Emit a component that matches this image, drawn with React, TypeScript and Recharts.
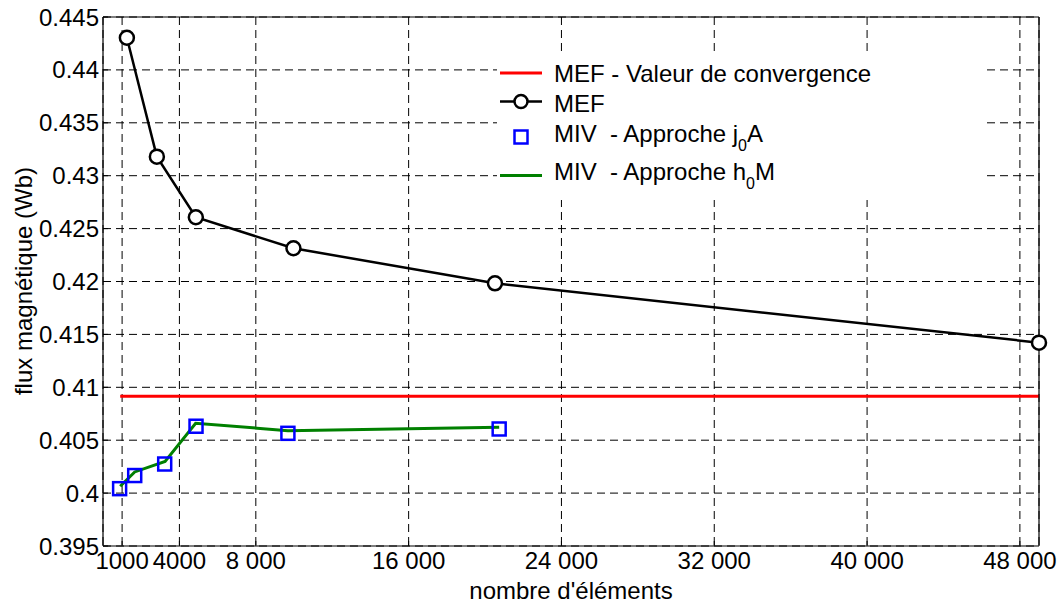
import React from 'react';
import { ComposedChart, Line, Scatter, XAxis, YAxis, CartesianGrid, Legend } from 'recharts';

// MEF (finite elements)
const mefX = [1250, 2820, 4860, 9970, 20520, 49000];
const mefY = [0.44304, 0.4318, 0.42607, 0.42314, 0.41983, 0.41422];

// MEF convergence value
const convX = [900, 49000];
const convY = [0.40915, 0.40915];

// MIV - approche j0A (squares)
const jaX = [870, 1660, 3230, 4870, 9680, 20740];
const jaY = [0.40042, 0.40166, 0.40275, 0.40632, 0.40565, 0.40606];

// MIV - approche h0M (green line)
const hmX = [900, 1660, 3250, 4850, 9680, 20740];
const hmY = [0.40065, 0.402, 0.403, 0.4066, 0.4059, 0.40622];

const xTicks = [1000, 4000, 8000, 16000, 24000, 32000, 40000, 48000];
const xTickLabels = ['1000', '4000', '8 000', '16 000', '24 000', '32 000', '40 000', '48 000'];
const yTicks = [0.395, 0.4, 0.405, 0.41, 0.415, 0.42, 0.425, 0.43, 0.435, 0.44, 0.445];
const yTickLabels = ['0.395', '0.4', '0.405', '0.41', '0.415', '0.42', '0.425', '0.43', '0.435', '0.44', '0.445'];

const zip = (xs: number[], ys: number[]) => xs.map((x, i) => ({ x, y: ys[i] }));

const mefData = zip(mefX, mefY);
const convData = zip(convX, convY);
const jaData = zip(jaX, jaY);
const hmData = zip(hmX, hmY);

const FONT = '"Liberation Sans", Arial, Helvetica, sans-serif';
const FS = 24;

const SquareShape = (props: any) => {
  const { cx, cy } = props;
  if (cx == null || cy == null) return null;
  return <rect x={cx - 6.5} y={cy - 6.5} width={13} height={13} fill="none" stroke="#0000ff" strokeWidth={2.5} />;
};

const YLabel = () => (
  <text x={31.5} y={281} transform="rotate(-90 31.5 281)" textAnchor="middle" fontSize={FS} fontFamily={FONT} fill="#000">
    flux magnétique (Wb)
  </text>
);

const XLabel = () => (
  <text x={571} y={599} textAnchor="middle" fontSize={FS} fontFamily={FONT} fill="#000">
    nombre d'éléments
  </text>
);

const LegendContent = () => (
  <svg width={520} height={160} style={{ display: 'block' }}>
    <rect x={17} y={5} width={488} height={145} fill="#fff" />
    <g fontFamily={FONT} fontSize={FS} fill="#000">
      <line x1={20} y1={23} x2={62} y2={23} stroke="#ff0000" strokeWidth={3} />
      <text x={74} y={31.5} style={{ whiteSpace: 'pre' }}>MEF - Valeur de convergence</text>

      <line x1={20} y1={51.5} x2={62} y2={51.5} stroke="#000" strokeWidth={2.5} />
      <circle cx={41} cy={51.5} r={6.5} fill="#fff" stroke="#000" strokeWidth={2.5} />
      <text x={74} y={61.5}>MEF</text>

      <rect x={34.5} y={80.5} width={13} height={13} fill="none" stroke="#0000ff" strokeWidth={2.5} />
      <text x={74} y={91.5} style={{ whiteSpace: 'pre' }}>
        {'MIV  - Approche j'}
        <tspan dy={9} fontSize={16}>0</tspan>
        <tspan dy={-9}>A</tspan>
      </text>

      <line x1={20} y1={125.5} x2={62} y2={125.5} stroke="#008000" strokeWidth={3} />
      <text x={74} y={130} style={{ whiteSpace: 'pre' }}>
        {'MIV  - Approche h'}
        <tspan dy={9} fontSize={16}>0</tspan>
        <tspan dy={-9}>M</tspan>
      </text>
    </g>
  </svg>
);

export default function App() {
  return (
    <div style={{ position: 'absolute', left: 0, top: 0, width: 1058, height: 606, background: '#fff', fontFamily: FONT }}>
      <ComposedChart width={1058} height={606} margin={{ top: 16, right: 18, bottom: 0, left: 0 }}>
        <CartesianGrid stroke="#000" strokeDasharray="8 5" strokeWidth={1} />
        <XAxis
          dataKey="x"
          type="number"
          domain={[0, 49000]}
          ticks={xTicks}
          interval={0}
          tickFormatter={(v: number) => xTickLabels[xTicks.indexOf(v)] ?? String(v)}
          tick={{ fill: '#000', fontSize: FS, fontFamily: FONT }}
          tickLine={{ stroke: '#000' }}
          tickSize={-5}
          tickMargin={11}
          height={60}
          axisLine={{ stroke: '#000', strokeWidth: 1.2 }}
          label={<XLabel />}
        />
        <XAxis
          xAxisId="top"
          orientation="top"
          dataKey="x"
          type="number"
          domain={[0, 49000]}
          ticks={xTicks}
          interval={0}
          tick={false}
          tickLine={{ stroke: '#000' }}
          tickSize={-5}
          height={1}
          axisLine={{ stroke: '#000', strokeWidth: 1.2 }}
        />
        <YAxis
          type="number"
          domain={[0.395, 0.445]}
          ticks={yTicks}
          interval={0}
          tickFormatter={(v: number) => {
            const i = yTicks.findIndex((t) => Math.abs(t - v) < 1e-9);
            return i >= 0 ? yTickLabels[i] : String(v);
          }}
          tick={{ fill: '#000', fontSize: FS, fontFamily: FONT }}
          tickLine={{ stroke: '#000' }}
          tickSize={-5}
          tickMargin={9}
          width={103}
          axisLine={{ stroke: '#000', strokeWidth: 1.2 }}
          label={<YLabel />}
        />
        <YAxis
          yAxisId="right"
          orientation="right"
          type="number"
          domain={[0.395, 0.445]}
          ticks={yTicks}
          interval={0}
          tick={false}
          tickLine={{ stroke: '#000' }}
          tickSize={-5}
          width={1}
          axisLine={{ stroke: '#000', strokeWidth: 1.2 }}
        />
        <Legend
          layout="vertical"
          align="center"
          verticalAlign="middle"
          content={<LegendContent />}
          wrapperStyle={{ position: 'absolute', left: 480, top: 50, width: 520, height: 160 }}
        />
        <Line data={convData} dataKey="y" stroke="#ff0000" strokeWidth={3} dot={false} activeDot={false} isAnimationActive={false} name="MEF - Valeur de convergence" />
        <Line
          data={mefData}
          dataKey="y"
          stroke="#000"
          strokeWidth={2.5}
          dot={{ r: 7, stroke: '#000', strokeWidth: 2.5, fill: '#fff' }}
          activeDot={false}
          isAnimationActive={false}
          name="MEF"
        />
        <Scatter data={jaData} dataKey="y" shape={<SquareShape />} isAnimationActive={false} name="MIV - Approche j0A" />
        <Line data={hmData} dataKey="y" stroke="#008000" strokeWidth={3} dot={false} activeDot={false} isAnimationActive={false} name="MIV - Approche h0M" />
      </ComposedChart>
    </div>
  );
}
